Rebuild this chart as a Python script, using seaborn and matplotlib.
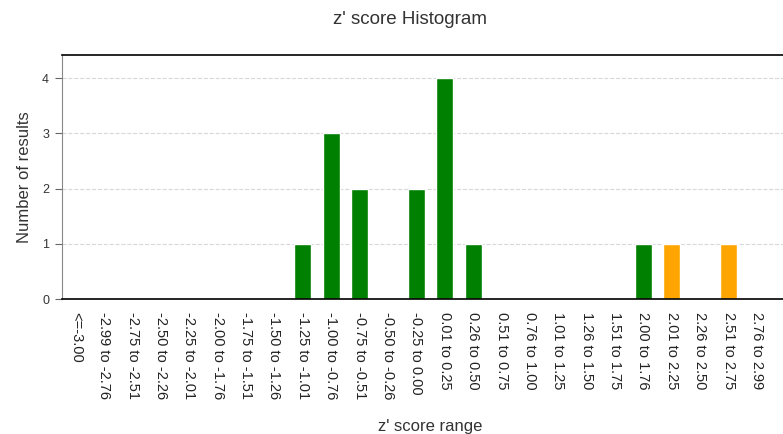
import matplotlib
matplotlib.use("Agg")
import matplotlib.pyplot as plt
import seaborn as sns
import pandas as pd

# z' score bins and counts
ranges = ["<=-3.00", "-2.99 to -2.76", "-2.75 to -2.51", "-2.50 to -2.26",
          "-2.25 to -2.01", "-2.00 to -1.76", "-1.75 to -1.51", "-1.50 to -1.26",
          "-1.25 to -1.01", "-1.00 to -0.76", "-0.75 to -0.51", "-0.50 to -0.26",
          "-0.25 to 0.00", "0.01 to 0.25", "0.26 to 0.50", "0.51 to 0.75",
          "0.76 to 1.00", "1.01 to 1.25", "1.26 to 1.50", "1.51 to 1.75",
          "2.00 to 1.76", "2.01 to 2.25", "2.26 to 2.50", "2.51 to 2.75",
          "2.76 to 2.99", ">=3.00"]
counts = [0, 0, 0, 0, 0, 0, 0, 0, 1, 3, 2, 0, 2, 4, 1, 0, 0, 0, 0, 0, 1, 1, 0, 1, 0, 0]
status = ["ok"] * 21 + ["warn", "warn", "warn", "bad", "bad"]

df = pd.DataFrame({"range": ranges, "count": counts, "status": status})

sns.set_style("white")
plt.rcParams["font.family"] = ["Liberation Sans", "DejaVu Sans"]

fig = plt.figure(figsize=(7.83, 4.34), dpi=100)
ax = fig.add_axes([61.6 / 783, 135 / 434, 738 / 783, 244 / 434])

sns.barplot(data=df, x="range", y="count", hue="status",
            palette={"ok": "#008000", "warn": "#FFA500", "bad": "#D00000"},
            width=0.6, legend=False, saturation=1, ax=ax)

ax.set_xlim(-0.5, len(ranges) - 0.5)
ax.set_ylim(0, 4.42)
ax.set_yticks([0, 1, 2, 3, 4])
ax.yaxis.grid(True, color="#d8d8d8", linestyle="--", linewidth=0.8)
ax.set_axisbelow(True)

for side in ["top", "bottom"]:
    ax.spines[side].set_color("black")
    ax.spines[side].set_linewidth(1.2)
ax.spines["left"].set_color("#888888")
ax.spines["left"].set_linewidth(0.8)
ax.spines["right"].set_visible(False)

ax.tick_params(axis="y", left=True, length=5, width=0.8, color="#666666",
               labelsize=9, labelcolor="#333333", pad=4)
ax.tick_params(axis="x", bottom=False, labelsize=10.5, labelcolor="#222222", pad=6)
plt.setp(ax.get_xticklabels(), rotation=270, va="top", ha="center")

ax.set_xlabel("z' score range", fontsize=12, color="#333333", labelpad=8)
ax.xaxis.set_label_coords(0.5, -(299 + 0 - 299 + 120) / 244)
ax.set_ylabel("Number of results", fontsize=12, color="#333333")
ax.yaxis.set_label_coords(-30 / 738, 0.5)
fig.text(410 / 783, 1 - 20 / 434, "z' score Histogram", ha="center", va="center",
         fontsize=13.5, color="#333333")

fig.savefig("out.png", dpi=100)
